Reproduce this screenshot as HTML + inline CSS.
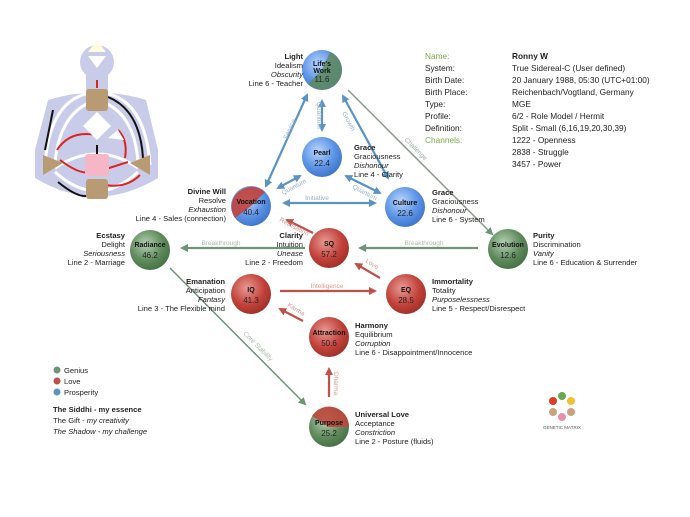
<!DOCTYPE html>
<html><head><meta charset="utf-8"><style>
html,body{margin:0;padding:0;background:#fff;}
svg{display:block;font-family:"Liberation Sans",sans-serif;}
.t{font-size:7.6px;fill:#222}
.b{font-weight:bold}
.i{font-style:italic}
.n{font-size:7px;font-weight:bold;fill:#111;text-anchor:middle}
.v{font-size:8px;fill:#222;text-anchor:middle}
.cl{font-size:6.5px}
</style></head><body>
<svg width="690" height="517" viewBox="0 0 690 517">
<defs>
<radialGradient id="gb" cx="40%" cy="35%" r="70%"><stop offset="0" stop-color="#b9d6fb"/><stop offset=".6" stop-color="#5b93e6"/><stop offset="1" stop-color="#3d72c7"/></radialGradient>
<radialGradient id="gr" cx="40%" cy="35%" r="70%"><stop offset="0" stop-color="#e89a94"/><stop offset=".6" stop-color="#c2433b"/><stop offset="1" stop-color="#9e2d27"/></radialGradient>
<radialGradient id="gg" cx="40%" cy="35%" r="70%"><stop offset="0" stop-color="#b7d0b3"/><stop offset=".6" stop-color="#5e8a5c"/><stop offset="1" stop-color="#456f44"/></radialGradient>
<marker id="ab" markerWidth="8" markerHeight="8" refX="6" refY="4" orient="auto-start-reverse" markerUnits="userSpaceOnUse"><path d="M0,0 L8,4 L0,8 z" fill="#5b93c4"/></marker>
<marker id="ar" markerWidth="8" markerHeight="8" refX="6" refY="4" orient="auto-start-reverse" markerUnits="userSpaceOnUse"><path d="M0,0 L8,4 L0,8 z" fill="#c0504a"/></marker>
<marker id="ag" markerWidth="8" markerHeight="8" refX="6" refY="4" orient="auto-start-reverse" markerUnits="userSpaceOnUse"><path d="M0,0 L8,4 L0,8 z" fill="#6f9476"/></marker>
</defs>

<!-- body graph -->
<circle cx="97" cy="62" r="17" fill="#c9cce8"/>
<rect x="86" y="70" width="22" height="25" fill="#c9cce8"/>
<path d="M35,150 L48,100 Q97,85 146,100 L158,150 L158,178 Q97,215 35,178 Z" fill="#c9cce8"/>
<path d="M97,40 L88,52 L106,52 Z" fill="#fffbe0"/>
<path d="M88,56 L106,56 L97,68 Z" fill="#fff"/>
<g fill="none" stroke="#fff" stroke-width="3">
<path d="M55,163 Q60,110 97,100 Q134,110 138,162"/>
<path d="M55,168 Q97,140 138,168"/>
<path d="M55,172 Q97,210 138,172"/>
<path d="M45,165 Q50,95 97,92 Q145,95 150,165"/>
</g>
<g fill="none" stroke-width="2">
<path d="M53,110 L45,150" stroke="#111"/>
<path d="M108,97 Q140,110 143,158" stroke="#111"/>
<path d="M58,182 Q80,200 90,195" stroke="#111"/>
<path d="M57,150 Q70,130 96,135" stroke="#d22"/>
<path d="M60,160 Q80,175 90,172" stroke="#d22"/>
<path d="M125,158 Q128,140 118,130" stroke="#d22"/>
<path d="M103,170 L128,162" stroke="#d22"/>
<path d="M100,184 Q125,190 140,175" stroke="#d22"/>
<path d="M97,88 L97,80" stroke="#d22"/>
<path d="M97,145 L97,155" stroke="#111"/>
</g>
<rect x="86" y="89" width="22" height="22" rx="3" fill="#b99b73"/>
<path d="M97,112 L111,126 L97,140 L83,126 Z" fill="#fff"/>
<path d="M108,138 L118,130 L124,140 Z" fill="#fff"/>
<rect x="85" y="154" width="24" height="22" rx="3" fill="#f5b6c6"/>
<rect x="86" y="179" width="22" height="20" rx="3" fill="#b99b73"/>
<path d="M43,155 L63,163 L43,175 Z" fill="#b99b73"/>
<path d="M150,155 L130,163 L150,175 Z" fill="#b99b73"/>

<!-- connectors -->
<g stroke-width="2.2" fill="none">
<line x1="307" y1="95" x2="266" y2="186" stroke="#5b93c4" marker-start="url(#ab)" marker-end="url(#ab)"/>
<line x1="322" y1="101" x2="322" y2="130" stroke="#5b93c4" marker-start="url(#ab)" marker-end="url(#ab)"/>
<line x1="343" y1="96" x2="388" y2="178" stroke="#5b93c4" marker-start="url(#ab)" marker-end="url(#ab)"/>
<line x1="278" y1="188" x2="300" y2="176" stroke="#5b93c4" marker-start="url(#ab)" marker-end="url(#ab)"/>
<line x1="346" y1="176" x2="380" y2="193" stroke="#5b93c4" marker-start="url(#ab)" marker-end="url(#ab)"/>
<line x1="284" y1="203" x2="375" y2="203" stroke="#5b93c4" marker-start="url(#ab)" marker-end="url(#ab)"/>
<line x1="348" y1="90" x2="492" y2="234" stroke="#8c9a8e" stroke-width="1.5" marker-end="url(#ag)"/>
<line x1="305" y1="248" x2="182" y2="248" stroke="#6f9476" marker-end="url(#ag)"/>
<line x1="478" y1="248" x2="360" y2="248" stroke="#6f9476" marker-end="url(#ag)"/>
<line x1="170" y1="268" x2="305" y2="404" stroke="#6f9476" stroke-width="1.5" marker-end="url(#ag)"/>
<line x1="313" y1="233" x2="287" y2="220" stroke="#c0504a" marker-end="url(#ar)"/>
<line x1="380" y1="278" x2="356" y2="264" stroke="#c0504a" marker-end="url(#ar)"/>
<line x1="280" y1="291" x2="375" y2="291" stroke="#c0504a" marker-end="url(#ar)"/>
<line x1="303" y1="321" x2="280" y2="309" stroke="#c0504a" marker-end="url(#ar)"/>
<line x1="329" y1="397" x2="329" y2="369" stroke="#c0504a" marker-end="url(#ar)"/>
</g>
<g font-size="6.5" fill="#9ab0c4">
<text transform="translate(287,140) rotate(-66)">Service</text>
<text transform="translate(317,102) rotate(90)" >Quantum</text>
<text transform="translate(342,113) rotate(62)">Growth</text>
<text transform="translate(283,195) rotate(-28)">Quantum</text>
<text transform="translate(352,188) rotate(28)">Quantum</text>
<text x="317" y="200" text-anchor="middle">Initiative</text>
<text transform="translate(404,140) rotate(45)" fill="#a0aaa0">Challenge</text>
<text x="221" y="245" text-anchor="middle" fill="#a8bca8">Breakthrough</text>
<text x="424" y="245" text-anchor="middle" fill="#a8bca8">Breakthrough</text>
<text transform="translate(243,334) rotate(45)" fill="#a8bca8">Core Stability</text>
<text transform="translate(279,221) rotate(28)" fill="#d49a96">Realisation</text>
<text transform="translate(365,262) rotate(32)" fill="#d49a96">Love</text>
<text x="327" y="288" text-anchor="middle" fill="#d49a96">Intelligence</text>
<text transform="translate(287,306) rotate(32)" fill="#d49a96">Karma</text>
<text transform="translate(334,372) rotate(90)" fill="#d49a96">Dharma</text>
</g>

<!-- nodes -->
<g>
<circle cx="322" cy="70" r="20" fill="url(#gb)"/>
<path d="M322,70 L342,70 A20,20 0 0 1 308,84 Z M322,70 L342,70 A20,20 0 0 0 330,52 Z" fill="#5e8a5c" opacity=".85"/>
<text class="n" x="322" y="66">Life's</text><text class="n" x="322" y="73">Work</text><text class="v" x="322" y="82">11.6</text>

<circle cx="322" cy="157" r="20" fill="url(#gb)"/>
<text class="n" x="322" y="155">Pearl</text><text class="v" x="322" y="166">22.4</text>

<circle cx="251" cy="206" r="20" fill="url(#gb)"/>
<path d="M251,206 L265,192 A20,20 0 0 0 235,218 Z" fill="#c2433b" opacity=".9"/>
<text class="n" x="251" y="204">Vocation</text><text class="v" x="251" y="215">40.4</text>

<circle cx="405" cy="207" r="20" fill="url(#gb)"/>
<text class="n" x="405" y="205">Culture</text><text class="v" x="405" y="216">22.6</text>

<circle cx="150" cy="250" r="20" fill="url(#gg)"/>
<text class="n" x="150" y="247">Radiance</text><text class="v" x="150" y="258">46.2</text>

<circle cx="329" cy="248" r="20" fill="url(#gr)"/>
<text class="n" x="329" y="246">SQ</text><text class="v" x="329" y="257">57.2</text>

<circle cx="508" cy="249" r="20" fill="url(#gg)"/>
<text class="n" x="508" y="247">Evolution</text><text class="v" x="508" y="258">12.6</text>

<circle cx="251" cy="294" r="20" fill="url(#gr)"/>
<text class="n" x="251" y="292">IQ</text><text class="v" x="251" y="303">41.3</text>

<circle cx="406" cy="294" r="20" fill="url(#gr)"/>
<text class="n" x="406" y="292">EQ</text><text class="v" x="406" y="303">28.5</text>

<circle cx="329" cy="337" r="20" fill="url(#gr)"/>
<text class="n" x="329" y="335">Attraction</text><text class="v" x="329" y="346">50.6</text>

<circle cx="329" cy="427" r="20" fill="url(#gg)"/>
<path d="M329,427 L312,416 A20,20 0 0 1 349,427 Z" fill="#c2433b" opacity=".85"/>
<text class="n" x="329" y="425">Purpose</text><text class="v" x="329" y="436">25.2</text>
</g>

<!-- node labels -->
<g class="t">
<g text-anchor="end">
<text x="303" y="59" class="b">Light</text><text x="303" y="68">Idealism</text><text x="303" y="77" class="i">Obscurity</text><text x="303" y="86">Line 6 - Teacher</text>
<text x="226" y="194" class="b">Divine Will</text><text x="226" y="203">Resolve</text><text x="226" y="212" class="i">Exhaustion</text><text x="226" y="221">Line 4 - Sales (connection)</text>
<text x="125" y="238" class="b">Ecstasy</text><text x="125" y="247">Delight</text><text x="125" y="256" class="i">Seriousness</text><text x="125" y="265">Line 2 - Marriage</text>
<text x="303" y="238" class="b">Clarity</text><text x="303" y="247">Intuition</text><text x="303" y="256" class="i">Unease</text><text x="303" y="265">Line 2 - Freedom</text>
<text x="225" y="284" class="b">Emanation</text><text x="225" y="293">Anticipation</text><text x="225" y="302" class="i">Fantasy</text><text x="225" y="311">Line 3 - The Flexible mind</text>
</g>
<text x="354" y="150" class="b">Grace</text><text x="354" y="159">Graciousness</text><text x="354" y="168" class="i">Dishonour</text><text x="354" y="177">Line 4 - Clarity</text>
<text x="432" y="195" class="b">Grace</text><text x="432" y="204">Graciousness</text><text x="432" y="213" class="i">Dishonour</text><text x="432" y="222">Line 6 - System</text>
<text x="533" y="238" class="b">Purity</text><text x="533" y="247">Discrimination</text><text x="533" y="256" class="i">Vanity</text><text x="533" y="265">Line 6 - Education &amp; Surrender</text>
<text x="432" y="284" class="b">Immortality</text><text x="432" y="293">Totality</text><text x="432" y="302" class="i">Purposelessness</text><text x="432" y="311">Line 5 - Respect/Disrespect</text>
<text x="355" y="328" class="b">Harmony</text><text x="355" y="337">Equilibrium</text><text x="355" y="346" class="i">Corruption</text><text x="355" y="355">Line 6 - Disappointment/Innocence</text>
<text x="355" y="417" class="b">Universal Love</text><text x="355" y="426">Acceptance</text><text x="355" y="435" class="i">Constriction</text><text x="355" y="444">Line 2 - Posture (fluids)</text>
</g>

<!-- info panel -->
<g font-size="8.3" fill="#222">
<text x="425" y="59" fill="#7ba84a">Name:</text><text x="512" y="59" font-weight="bold">Ronny W</text>
<text x="425" y="71">System:</text><text x="512" y="71">True Sidereal-C (User defined)</text>
<text x="425" y="83">Birth Date:</text><text x="512" y="83">20 January 1988, 05:30 (UTC+01:00)</text>
<text x="425" y="95">Birth Place:</text><text x="512" y="95">Reichenbach/Vogtland, Germany</text>
<text x="425" y="107">Type:</text><text x="512" y="107">MGE</text>
<text x="425" y="119">Profile:</text><text x="512" y="119">6/2 - Role Model / Hermit</text>
<text x="425" y="131">Definition:</text><text x="512" y="131">Split - Small (6,16,19,20,30,39)</text>
<text x="425" y="143" fill="#7ba84a">Channels:</text><text x="512" y="143">1222 - Openness</text>
<text x="512" y="155">2838 - Struggle</text>
<text x="512" y="167">3457 - Power</text>
</g>

<!-- legend -->
<circle cx="57" cy="370" r="3.5" fill="#6f9476"/><circle cx="57" cy="381" r="3.5" fill="#c0504a"/><circle cx="57" cy="392" r="3.5" fill="#5b93c4"/>
<g class="t" font-size="7.4">
<text x="64" y="373">Genius</text><text x="64" y="384">Love</text><text x="64" y="395">Prosperity</text>
<text x="53" y="412" class="b">The Siddhi - my essence</text>
<text x="53" y="423">The Gift - <tspan class="i">my creativity</tspan></text>
<text x="53" y="434" class="i">The Shadow - my challenge</text>
</g>

<!-- logo -->
<g>
<circle cx="562" cy="396" r="4" fill="#6aa84f"/>
<circle cx="571" cy="401" r="4" fill="#f1c232"/>
<circle cx="571" cy="412" r="4" fill="#c9a27e"/>
<circle cx="562" cy="417" r="4" fill="#e88fb0"/>
<circle cx="553" cy="412" r="4" fill="#c9a27e"/>
<circle cx="553" cy="401" r="4" fill="#e03a2a"/>
<text x="562" y="429" font-size="4.5" fill="#555" text-anchor="middle">GENETIC MATRIX</text>
</g>
</svg>
</body></html>
